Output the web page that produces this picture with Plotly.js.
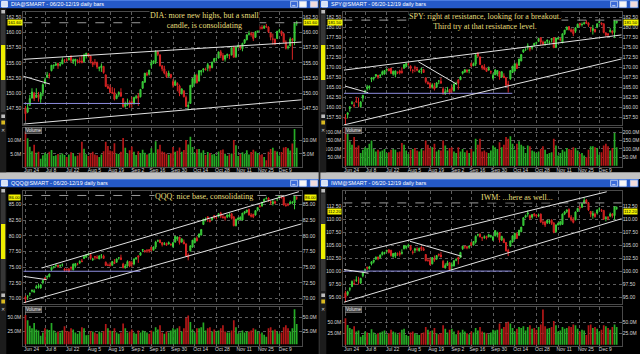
<!DOCTYPE html>
<html><head><meta charset="utf-8">
<script src="https://cdn.plot.ly/plotly-3.0.1.min.js"></script>
<style>html,body{margin:0;padding:0;background:#000;overflow:hidden}#chart{width:640px;height:354px}</style>
</head><body><div id="chart"></div>
<script>
const days = ['Jun 24','Jun 25','Jun 26','Jun 27','Jun 28',
'Jul 1','Jul 2','Jul 3','Jul 5',
'Jul 8','Jul 9','Jul 10','Jul 11','Jul 12','Jul 15','Jul 16','Jul 17','Jul 18','Jul 19',
'Jul 22','Jul 23','Jul 24','Jul 25','Jul 26','Jul 29','Jul 30','Jul 31','Aug 1','Aug 2',
'Aug 5','Aug 6','Aug 7','Aug 8','Aug 9','Aug 12','Aug 13','Aug 14','Aug 15','Aug 16',
'Aug 19','Aug 20','Aug 21','Aug 22','Aug 23','Aug 26','Aug 27','Aug 28','Aug 29','Aug 30',
'Sep 3','Sep 4','Sep 5','Sep 6','Sep 9','Sep 10','Sep 11','Sep 12','Sep 13',
'Sep 16','Sep 17','Sep 18','Sep 19','Sep 20','Sep 23','Sep 24','Sep 25','Sep 26','Sep 27',
'Sep 30','Oct 1','Oct 2','Oct 3','Oct 4','Oct 7','Oct 8','Oct 9','Oct 10','Oct 11',
'Oct 14','Oct 15','Oct 16','Oct 17','Oct 18','Oct 21','Oct 22','Oct 23','Oct 24','Oct 25',
'Oct 28','Oct 29','Oct 30','Oct 31','Nov 1','Nov 4','Nov 5','Nov 6','Nov 7','Nov 8',
'Nov 11','Nov 12','Nov 13','Nov 14','Nov 15','Nov 18','Nov 19','Nov 20','Nov 21','Nov 22',
'Nov 25','Nov 26','Nov 27','Nov 29','Dec 2','Dec 3','Dec 4','Dec 5','Dec 6',
'Dec 9','Dec 10','Dec 11','Dec 12','Dec 13','Dec 16','Dec 17','Dec 18','Dec 19'];
const xTickVals = ['Jun 24','Jul 8','Jul 22','Aug 5','Aug 19','Sep 3','Sep 16','Sep 30','Oct 14','Oct 28','Nov 11','Nov 25','Dec 9'];
const xTickText = ['Jun 24','Jul 8','Jul 22','Aug 5','Aug 19','Sep 2','Sep 16','Sep 30','Oct 14','Oct 28','Nov 11','Nov 25','Dec 9'];

// ---------- DIA ----------
const diaOpen = [147.5,146.9,148.0,149.2,150.0,
149.3,149.7,149.0,150.1,
151.6,152.6,153.0,153.7,154.5,154.6,154.9,154.6,154.8,155.4,
155.5,155.5,156.1,155.2,155.3,155.4,155.3,155.3,155.2,156.1,
156.5,156.1,155.1,155.1,155.0,154.1,154.2,154.4,153.0,151.1,
150.9,150.1,150.1,149.1,149.8,150.1,149.1,147.8,148.1,148.5,
148.6,148.3,149.3,149.5,149.4,150.8,151.8,153.2,153.1,
154.6,154.9,155.2,156.8,156.3,154.5,154.0,153.3,152.8,153.1,
151.9,151.3,151.6,151.2,149.9,150.4,149.3,147.8,148.3,151.1,
151.7,152.9,152.0,153.5,153.8,154.0,154.1,154.5,154.2,155.2,
155.7,155.8,156.8,156.2,155.6,156.2,156.3,156.3,157.5,156.0,
157.6,157.8,157.3,158.3,158.8,159.7,159.8,159.8,159.2,160.1,
160.8,160.8,160.7,161.0,160.9,159.9,158.9,158.9,159.0,
160.3,160.2,159.8,158.4,157.5,157.8,158.9,158.6,161.5];
const diaHigh = [147.9,148.3,149.7,150.8,150.2,
150.8,150.2,150.2,151.6,
152.6,153.5,153.3,154.6,154.7,155.1,155.0,155.1,155.9,155.6,
155.8,156.1,156.2,155.7,155.6,155.6,155.9,156.3,156.5,156.6,
156.6,156.2,155.2,155.6,155.2,154.4,154.9,154.5,153.1,151.5,
151.4,151.0,150.8,149.9,150.3,150.8,149.2,148.6,149.1,148.8,
149.4,149.4,149.7,150.0,150.7,152.0,153.3,153.5,153.8,
155.5,155.4,157.1,157.0,156.4,154.6,154.5,153.6,153.7,153.1,
152.3,152.2,151.8,151.4,150.8,150.4,149.6,148.6,151.3,152.4,
153.1,153.2,153.8,153.8,154.1,154.2,155.0,154.5,155.2,155.8,
155.9,156.8,157.1,156.6,156.3,156.5,156.4,157.5,157.8,157.7,
158.0,157.9,158.3,158.9,159.7,160.3,160.1,160.0,160.2,160.7,
161.1,161.2,161.2,161.4,161.0,160.0,159.8,159.0,160.2,
160.6,160.3,159.9,158.7,157.9,159.2,159.1,161.7,161.9];
const diaLow = [145.5,146.7,147.9,149.1,148.7,
149.2,148.6,148.4,149.5,
151.5,152.5,152.4,153.6,154.0,154.5,154.0,154.4,154.8,155.0,
155.2,155.4,155.0,154.8,154.5,154.9,154.9,155.0,155.1,155.7,
155.9,154.9,154.3,154.6,154.0,153.6,153.5,153.2,151.0,150.7,
150.1,149.9,148.8,149.0,149.4,149.4,147.6,147.6,147.9,147.6,
147.6,148.1,149.0,147.9,149.3,150.7,151.7,152.8,152.9,
154.1,154.8,154.8,156.1,154.4,153.6,153.1,152.5,152.7,152.4,
150.9,151.2,150.3,149.5,149.8,149.3,147.7,147.2,148.3,150.9,
151.5,151.6,151.9,152.9,153.4,153.7,153.6,153.6,154.1,155.0,
155.3,155.7,155.8,155.3,155.2,155.8,155.6,156.2,155.9,155.8,
157.5,157.1,156.9,158.1,158.7,159.5,159.3,158.6,159.1,160.0,
160.4,160.5,160.6,160.8,159.9,158.7,158.0,157.9,158.9,
160.0,159.4,158.3,157.2,157.2,157.7,155.5,157.9,161.1];
const diaClose = [146.6,147.6,149.1,150.2,149.1,
149.7,149.3,149.9,151.4,
152.2,153.0,152.9,154.6,154.6,154.8,154.5,154.7,155.5,155.4,
155.4,155.7,155.4,155.5,155.6,155.2,155.2,155.0,156.3,156.6,
156.1,155.2,154.7,155.0,154.3,154.2,154.5,153.4,151.1,150.8,
150.1,150.0,149.0,149.6,150.1,149.5,147.8,148.2,148.4,148.1,
148.3,149.3,149.4,149.2,150.6,151.9,153.3,153.0,153.8,
154.9,155.3,156.8,156.4,154.5,154.0,153.3,152.7,153.3,152.6,
151.3,151.9,151.3,150.0,150.7,149.4,147.8,148.0,151.3,152.4,
153.0,151.7,153.7,153.7,154.0,153.9,154.7,154.1,155.1,155.7,
155.7,156.8,156.2,155.5,156.2,156.4,156.2,157.5,155.9,157.6,
157.8,157.5,158.2,158.8,159.6,159.8,159.7,159.0,160.1,160.7,
160.7,160.7,161.0,160.9,160.1,159.2,158.9,158.2,160.2,
160.3,159.7,158.4,157.4,157.6,158.9,158.8,161.5,161.6];
const diaVol = [13.5,10.9,7.7,6.0,8.5,
5.5,5.8,3.2,4.5,
5.5,5.0,5.8,6.5,4.2,4.5,5.0,4.8,5.2,4.6,
3.9,4.8,5.6,5.3,4.1,4.4,5.5,9.6,7.0,4.9,
4.2,5.3,5.8,4.8,4.5,3.9,4.8,6.0,9.6,8.0,
6.3,6.0,9.0,5.2,5.0,5.8,11.0,7.3,5.2,6.4,
7.8,5.8,4.6,6.0,5.4,6.6,5.5,4.8,5.2,
7.2,5.5,9.8,6.8,8.5,5.9,5.6,5.1,4.7,5.3,
7.6,5.8,6.2,7.4,5.8,6.5,10.3,8.6,11.5,7.6,
5.4,6.8,6.9,5.5,6.4,4.6,5.7,5.4,4.8,5.0,
4.3,5.9,6.4,6.7,5.1,4.3,4.9,5.2,10.3,8.3,
4.2,5.0,5.6,5.1,6.4,4.8,5.7,6.6,5.9,5.4,
4.6,4.9,3.9,2.6,5.8,6.9,7.3,6.2,5.9,
4.4,5.7,7.4,7.6,7.2,6.3,8.9,14.4,7.3];
const diaTicks = [147.5,150,152.5,155,157.5,160,162.5];
const diaVolTicks = [5,10];
const diaVolText = ['5.0M','10.0M'];
const diaLines = [[-1,155.57,127.3,158.42,'w'],[-1,144.9,127.3,148.9,'w'],[-1.3,152.82,11.3,151.5,'w'],[-1,148.3,52.8,148.3,'h']];
const diaDash = 161.6;
const diaNote = 'DIA: more new highs, but a small<br>candle, is consolidating';

// ---------- SPY ----------
const spyOpen = [157.4,158.2,159.7,161.0,160.6,
161.6,161.3,160.2,162.3,
163.8,164.7,164.9,167.0,167.2,167.8,168.0,167.9,168.2,168.3,
169.3,169.6,169.8,168.3,168.2,168.7,169.1,169.0,169.8,170.2,
170.7,170.3,169.2,170.0,169.6,168.8,169.4,169.4,167.4,166.2,
166.0,165.0,165.2,165.0,166.6,166.5,164.6,163.4,163.9,164.5,
164.9,164.1,165.9,166.8,166.9,168.5,168.8,169.3,169.2,
171.0,170.4,170.8,173.6,172.6,170.4,170.1,169.7,169.3,168.9,
167.3,168.1,168.3,168.9,167.6,167.8,167.4,165.7,167.1,168.7,
169.1,170.7,170.5,171.6,173.8,174.4,175.0,174.8,174.8,175.5,
176.0,176.5,177.4,176.3,176.1,176.5,176.2,176.9,177.4,175.0,
177.1,177.0,176.1,178.4,179.4,180.2,179.4,179.4,179.0,180.0,
181.0,180.7,180.9,181.3,181.1,179.8,179.2,179.5,180.1,
181.2,181.1,180.9,178.6,178.4,178.9,179.1,178.7,181.2];
const spyHigh = [158.3,158.8,160.3,161.6,161.3,
162.6,162.4,161.6,163.1,
164.4,165.6,165.5,167.5,167.6,168.3,168.1,168.3,169.2,169.2,
169.6,169.8,169.8,169.2,169.2,169.0,169.4,170.0,170.8,171.0,
171.1,170.5,169.6,170.4,170.1,169.4,169.9,169.6,167.4,166.6,
166.3,166.0,166.1,166.3,166.7,167.4,165.1,164.7,165.1,164.5,
165.6,166.0,166.4,167.1,167.8,169.0,169.5,169.5,169.5,
171.2,171.2,173.4,173.7,172.7,170.5,170.8,169.9,170.2,169.2,
168.5,169.6,169.2,169.0,169.0,168.5,167.5,166.6,169.2,170.3,
171.1,171.2,172.1,173.3,174.5,174.8,176.0,175.0,175.4,176.1,
176.4,177.4,177.5,176.7,176.6,176.9,176.7,177.2,177.5,177.3,
177.6,177.4,178.4,179.3,180.1,180.3,179.8,179.7,180.0,180.9,
181.1,181.2,181.4,181.8,181.2,180.1,180.6,179.6,180.9,
181.6,181.2,180.9,178.8,178.5,179.8,179.2,181.8,181.7];
const spyLow = [155.7,157.2,158.9,160.7,159.9,
161.1,160.0,159.9,161.4,
163.4,164.2,164.4,166.3,166.7,167.6,167.1,167.4,168.0,168.2,
168.9,169.1,168.3,167.9,167.5,168.3,168.2,168.4,169.6,170.0,
170.4,169.0,168.5,168.8,169.0,168.6,168.4,168.6,166.0,165.8,
164.8,164.7,164.2,164.9,165.8,166.0,163.3,163.1,163.8,163.2,
163.4,164.0,165.6,164.4,166.9,168.2,168.6,168.6,168.5,
170.0,170.3,170.3,172.5,170.6,169.4,169.3,168.9,169.2,168.3,
166.9,168.1,167.8,166.9,167.4,167.4,165.4,163.7,166.9,168.6,
168.9,169.6,170.4,171.5,173.6,174.1,174.4,174.0,174.4,175.2,
175.7,176.3,175.6,175.5,175.4,175.9,175.7,176.2,174.9,174.8,
176.9,176.5,176.1,178.1,179.3,179.2,178.7,177.8,178.6,179.9,
180.2,180.2,180.7,180.9,180.1,178.8,178.2,178.7,179.8,
181.0,180.5,178.5,177.7,177.6,178.7,178.2,177.3,180.9];
const spyClose = [157.1,158.6,160.1,161.1,160.4,
161.4,161.2,161.3,163.0,
164.0,165.1,165.2,167.4,167.5,168.2,167.5,168.0,168.9,169.2,
169.5,169.1,168.5,169.0,169.1,168.6,168.6,168.7,170.7,171.0,
170.7,169.7,169.2,169.8,169.3,169.1,169.6,168.7,166.4,165.8,
164.8,165.6,164.6,166.1,166.6,166.0,163.3,163.9,164.2,163.7,
164.4,165.8,166.0,166.0,167.6,168.9,169.4,169.0,169.3,
170.3,170.9,173.1,172.8,170.7,169.9,169.5,169.0,169.7,168.9,
168.0,169.3,169.2,167.6,168.9,167.4,165.5,165.6,169.2,170.3,
170.9,169.7,172.1,173.2,174.4,174.4,175.4,174.6,175.2,176.0,
176.2,177.2,176.3,175.8,176.2,176.8,176.3,177.2,174.9,177.3,
177.3,177.0,178.4,179.3,180.1,179.4,179.0,178.4,179.9,180.8,
180.6,180.7,181.1,181.0,180.5,179.8,179.7,178.9,180.9,
181.4,180.8,178.7,178.1,178.1,179.2,178.7,181.7,181.5];
const spyVol = [230,190,145,125,170,
110,120,75,95,
110,105,130,150,100,85,95,85,90,100,
75,80,95,100,95,80,85,135,125,90,
70,95,100,105,90,85,100,90,150,125,
105,110,130,85,95,90,150,120,90,105,
110,85,75,110,85,100,80,90,75,
100,85,160,125,160,85,90,80,75,90,
120,110,100,140,110,125,170,160,175,130,
95,130,145,125,115,75,120,115,90,85,
75,85,100,115,95,70,75,80,160,120,
60,75,95,85,105,100,95,110,105,90,
70,75,60,50,95,115,115,110,105,
65,80,120,130,115,90,105,195,110];
const spyTicks = [157.5,160,162.5,165,167.5,170,172.5,175,177.5,180,182.5];
const spyVolTicks = [50,100,150,200];
const spyVolText = ['50.0M','100.0M','150.0M','200.0M'];
const spyLines = [[-0.7,169.3,127.3,178.1,'w'],[33.6,171.4,51.2,165.8,'w'],[-0.2,165.3,10.5,163.65,'w'],[-0.7,163.5,76.9,163.5,'h'],[-0.7,155.6,127.3,172.1,'w']];
const spyDash = 181.8;
const spyNote = 'SPY: right at resistance, looking for a breakout.<br>Third try at that resistance level.';

// ---------- QQQ ----------
const qqqOpen = [70.3,70.3,70.8,71.2,71.1,
71.7,71.9,71.7,72.6,
73.3,73.5,73.5,74.6,75.0,75.2,75.3,75.2,75.4,74.7,
74.7,74.7,75.0,74.6,75.2,75.5,75.7,76.0,76.4,76.6,
77.0,77.0,76.2,76.7,76.6,76.3,76.9,76.8,75.8,75.3,
75.4,75.3,75.8,75.8,76.5,76.5,75.5,74.9,75.2,75.9,
75.7,75.5,76.3,76.8,76.9,77.7,77.6,77.6,77.8,
78.2,77.7,78.2,79.2,79.3,78.9,78.7,78.8,78.7,78.6,
78.3,79.0,79.5,79.8,79.0,79.0,78.7,76.9,77.6,78.2,
78.9,79.6,79.8,80.1,81.8,82.6,83.0,82.4,82.6,83.2,
82.9,83.1,83.6,83.0,83.0,83.0,83.1,83.5,83.0,81.6,
82.6,82.6,82.5,83.6,83.8,84.2,83.3,83.4,83.3,84.1,
84.7,84.7,85.4,85.9,86.0,85.4,85.1,85.4,85.9,
86.1,86.2,86.1,84.9,85.0,85.1,85.3,85.2,86.0];
const qqqHigh = [70.5,70.6,71.0,71.5,71.5,
72.2,72.4,72.3,73.0,
73.4,73.7,74.0,75.1,75.2,75.5,75.4,75.4,75.6,74.9,
74.8,74.9,75.1,75.6,75.6,75.7,76.1,76.3,76.8,77.0,
77.2,77.1,76.5,76.8,76.9,76.9,77.1,77.0,75.9,75.6,
75.8,76.0,76.3,76.4,76.6,77.0,75.7,75.5,76.1,75.9,
76.0,76.4,76.6,76.9,77.4,77.9,77.7,77.9,77.8,
78.2,78.3,79.2,79.4,79.4,79.0,79.0,78.9,79.1,78.8,
79.0,80.0,79.9,79.8,79.6,79.4,78.8,77.2,78.5,79.3,
79.7,79.9,80.3,81.0,82.7,82.9,83.1,82.7,83.0,83.3,
83.1,83.6,83.8,83.4,83.1,83.4,83.6,83.6,83.1,82.7,
82.9,83.1,83.6,83.9,84.1,84.3,83.6,83.5,84.0,84.5,
84.9,85.4,85.9,86.2,86.1,85.6,85.8,85.6,86.0,
86.4,86.5,86.2,85.2,85.2,85.6,85.5,86.3,86.3];
const qqqLow = [69.3,69.8,70.4,71.0,70.9,
71.6,71.6,71.6,72.3,
72.9,73.1,73.4,74.4,74.8,75.1,74.9,75.0,75.1,74.3,
74.3,74.2,74.5,74.5,74.9,75.3,75.5,75.8,76.3,76.5,
76.8,76.2,76.0,76.2,76.3,76.3,76.4,76.4,75.2,75.2,
75.2,75.3,75.5,75.7,76.2,76.2,74.9,74.8,75.1,75.0,
75.0,75.3,76.2,75.7,76.9,77.4,77.3,77.3,77.3,
77.5,77.7,77.9,79.0,78.9,78.3,78.5,78.4,78.6,78.4,
78.1,78.9,79.2,78.6,78.9,78.7,76.8,76.1,77.5,78.1,
78.8,79.1,79.7,80.1,81.7,82.3,82.2,82.1,82.4,82.7,
82.6,82.9,82.8,82.7,82.4,82.8,82.9,82.6,81.5,81.5,
82.4,82.5,82.4,83.4,83.6,83.2,82.9,82.8,83.2,83.9,
84.5,84.7,85.3,85.8,85.4,84.9,84.8,85.0,85.5,
86.0,85.9,84.8,84.6,84.7,85.0,85.0,84.2,85.7];
const qqqClose = [69.9,70.3,70.8,71.3,71.2,
71.9,72.0,72.2,72.9,
73.1,73.5,73.9,75.0,75.1,75.3,75.1,75.3,75.4,74.5,
74.6,74.3,74.9,75.5,75.6,75.5,75.9,75.9,76.7,77.0,
77.1,76.4,76.3,76.6,76.5,76.8,76.9,76.4,75.3,75.3,
75.2,75.9,75.6,76.3,76.5,76.2,74.9,75.2,75.9,75.2,
75.5,76.3,76.5,76.6,77.3,77.8,77.6,77.6,77.6,
77.7,78.2,79.0,79.2,78.9,78.6,78.7,78.5,78.9,78.6,
78.9,79.9,79.8,78.9,79.5,78.7,76.8,76.6,78.4,79.3,
79.6,79.2,80.3,81.0,82.6,82.6,82.7,82.3,82.9,83.0,
82.9,83.5,83.1,82.9,82.8,83.3,83.3,82.8,81.6,82.6,
82.8,82.9,83.6,83.8,84.1,83.3,83.1,83.0,84.0,84.5,
84.6,85.3,85.8,85.9,85.7,85.3,85.4,85.2,85.9,
86.3,86.1,84.9,84.8,84.9,85.3,85.3,86.3,86.0];
const qqqVol = [55,45,35,30,40,
28,26,16,22,
30,28,27,40,26,22,24,22,26,34,
25,24,30,28,22,20,24,32,30,17,
18,25,24,22,20,24,22,25,38,30,
26,25,30,22,20,22,39,30,22,24,
28,22,20,26,22,26,24,22,20,
26,24,32,28,36,22,20,24,22,26,
30,28,30,34,24,30,50,54,42,28,
22,30,30,32,41,26,30,32,24,28,
24,26,30,36,24,22,22,26,45,32,
20,22,26,22,24,24,26,30,28,24,
20,22,18,14,30,32,26,28,24,
20,22,32,36,30,24,30,66,38];
const qqqTicks = [70,72.5,75,77.5,80,82.5,85];
const qqqVolTicks = [25,50];
const qqqVolText = ['25.0M','50.0M'];
const qqqLines = [[7.5,74.88,126,87.0,'w'],[-1,69.35,127.3,81.9,'w'],[-1,74.36,53,74.36,'h'],[-1,73.56,9.8,73.02,'w']];
const qqqDash = 86.4;
const qqqNote = 'QQQ: nice base, consolidating';

// ---------- IWM ----------
const iwmOpen = [95.8,95.5,96.5,97.0,97.6,
98.2,98.2,97.7,99.1,
100.2,100.7,100.5,101.4,101.8,102.3,102.7,102.6,103.2,103.4,
103.8,104.1,104.0,102.8,102.9,103.2,103.5,103.4,104.3,104.5,
104.8,104.8,103.7,104.0,104.2,103.9,104.6,104.3,103.2,102.0,
102.1,101.4,102.4,102.3,103.2,103.1,101.9,100.6,101.1,101.6,
101.0,101.0,102.1,102.6,102.6,104.3,104.7,104.7,104.6,
105.5,105.0,105.6,107.0,107.1,106.5,106.5,106.7,106.6,106.7,
106.0,106.8,107.0,107.4,106.0,106.1,105.5,104.0,104.8,105.6,
106.2,107.2,106.9,107.6,108.8,110.4,111.0,110.7,110.4,111.0,
110.8,110.7,111.0,109.4,109.5,109.3,109.5,109.8,109.3,107.6,
108.9,109.0,109.0,111.0,111.5,111.9,110.4,110.0,109.9,111.5,
112.3,112.3,113.1,113.7,113.2,111.5,110.7,111.0,111.2,
112.0,111.8,111.7,110.1,110.4,110.6,111.0,110.7,112.1];
const iwmHigh = [96.2,96.2,96.9,98.2,98.4,
99.0,98.9,98.7,99.8,
100.5,100.9,101.0,101.9,102.2,102.8,102.8,103.2,103.8,103.7,
104.1,104.2,104.1,103.5,103.6,103.6,103.9,104.2,105.0,104.9,
105.3,105.0,104.0,104.5,104.6,104.5,104.8,104.6,103.3,102.5,
102.6,102.7,103.0,103.1,103.4,103.7,102.1,101.5,102.0,101.7,
101.7,102.1,102.5,102.8,103.7,104.9,104.9,104.9,104.9,
105.6,105.8,106.9,107.2,107.3,106.6,106.9,106.8,107.2,107.0,
106.8,107.9,107.6,107.4,106.8,106.4,105.6,104.3,105.9,106.9,
107.4,107.5,107.9,108.5,110.4,110.9,111.7,110.9,111.0,111.2,
111.0,111.1,111.1,109.9,109.6,109.9,109.9,110.0,109.4,109.0,
109.4,109.7,111.1,111.6,111.9,112.1,110.8,110.4,111.5,112.2,
112.6,113.1,114.2,113.9,113.3,111.6,111.6,111.3,111.9,
112.3,112.0,111.8,110.6,110.6,111.3,111.2,112.5,112.5];
const iwmLow = [94.0,95.2,96.1,96.9,97.3,
97.9,97.4,97.5,98.8,
99.8,100.2,100.3,101.1,101.5,102.2,102.1,102.5,103.0,103.2,
103.6,103.4,102.8,102.6,102.5,102.9,102.8,103.2,104.2,104.2,
104.7,103.9,103.2,103.5,103.8,103.8,103.9,103.9,101.9,101.9,
101.2,101.3,101.8,102.2,102.8,102.7,100.6,100.5,101.0,100.0,
100.1,100.9,101.9,101.3,102.6,104.1,104.3,104.2,104.3,
104.8,105.0,105.3,106.7,106.5,105.8,106.2,106.1,106.5,106.4,
105.8,106.7,106.5,105.5,105.8,105.4,103.8,102.9,104.7,105.5,
106.1,106.2,106.8,107.5,108.7,110.2,110.5,109.9,110.1,110.5,
110.3,110.4,109.3,108.9,108.5,109.1,109.1,108.9,107.3,107.4,
108.8,108.8,108.9,110.8,111.2,110.3,109.6,109.2,109.8,111.4,
111.9,112.2,113.0,113.0,111.6,110.4,110.1,110.3,110.9,
111.7,111.4,109.9,109.6,109.8,110.4,110.3,109.9,111.8];
const iwmClose = [94.9,96.0,96.6,98.0,97.5,
98.3,98.2,98.6,99.7,
100.2,100.6,100.8,101.8,102.1,102.7,102.4,103.1,103.6,103.6,
104.0,103.6,103.0,103.4,103.5,103.2,103.2,103.6,104.9,104.8,
105.0,104.1,103.6,104.3,104.2,104.4,104.3,104.0,102.0,102.0,
101.2,102.6,102.1,103.0,103.1,102.7,100.7,101.1,101.6,100.3,
101.2,102.0,102.2,102.3,103.6,104.8,104.7,104.5,104.8,
105.0,105.7,106.7,107.0,106.6,106.4,106.6,106.4,107.0,106.8,
106.6,107.8,107.4,106.0,106.7,105.5,103.9,103.6,105.8,106.8,
107.3,106.3,107.9,108.5,110.3,110.7,111.2,110.2,110.9,110.8,
110.6,110.8,109.5,109.3,108.9,109.8,109.6,109.2,107.5,108.9,
109.2,109.5,111.0,111.4,111.8,110.4,109.9,109.4,111.4,112.1,
112.2,113.0,113.6,113.1,111.8,111.0,111.1,110.5,111.8,
112.0,111.7,110.0,110.3,110.2,111.0,110.7,112.4,112.2];
const iwmVol = [60,45,38,35,42,
30,32,18,22,
30,28,26,35,28,24,26,28,30,32,
24,26,34,30,28,24,28,34,36,22,
20,28,30,26,24,22,26,28,40,34,
30,32,38,26,24,26,44,36,28,34,
36,30,24,32,28,34,30,26,24,
30,28,38,32,40,30,28,26,24,28,
34,32,34,48,36,40,50,52,48,38,
30,36,40,38,42,32,40,44,36,38,
34,40,46,80,42,36,38,40,54,44,
30,32,40,36,38,42,40,46,44,36,
30,34,32,22,44,46,38,40,36,
30,34,44,42,38,34,40,46,40];
const iwmTicks = [95,97.5,100,102.5,105,107.5,110,112.5];
const iwmVolTicks = [25,50];
const iwmVolText = ['25.0M','50.0M'];
const iwmLines = [[11,104.1,120.4,115.3,'w'],[29.7,105.75,53.5,102.86,'w'],[-0.7,94.0,127.3,110.1,'w'],[-0.7,100.0,76.6,100.0,'h'],[-0.7,100.3,10.6,99.6,'w']];
const iwmDash = 113.15;
const iwmNote = 'IWM: ...here as well...';

// ---------- layout / panels ----------
const panels = [
  {sym:'DIA', ox:0,   oy:0,   O:diaOpen, H:diaHigh, L:diaLow, C:diaClose, V:diaVol, ticks:diaTicks, vt:diaVolTicks, vtt:diaVolText, lines:diaLines, dash:diaDash, note:diaNote, pr:[144.75,163.37], vr:[0.2,14.9], nx:204, ny:21},
  {sym:'SPY', ox:320, oy:0,   O:spyOpen, H:spyHigh, L:spyLow, C:spyClose, V:spyVol, ticks:spyTicks, vt:spyVolTicks, vtt:spyVolText, lines:spyLines, dash:spyDash, note:spyNote, pr:[155.58,183.83], vr:[-6,226], nx:485, ny:21.7},
  {sym:'QQQ', ox:0,   oy:179, O:qqqOpen, H:qqqHigh, L:qqqLow, C:qqqClose, V:qqqVol, ticks:qqqTicks, vt:qqqVolTicks, vtt:qqqVolText, lines:qqqLines, dash:qqqDash, note:qqqNote, pr:[69.16,87.11], vr:[-2.6,70.7], nx:204, ny:196.3},
  {sym:'IWM', ox:320, oy:179, O:iwmOpen, H:iwmHigh, L:iwmLow, C:iwmClose, V:iwmVol, ticks:iwmTicks, vt:iwmVolTicks, vtt:iwmVolText, lines:iwmLines, dash:iwmDash, note:iwmNote, pr:[93.65,115.45], vr:[-2.3,86.4], nx:516.5, ny:197}
];

const W = 640, H = 354;
const PX = v => v / W;
const PY = v => 1 - v / H;
const SANS = 'Liberation Sans, Arial, sans-serif';
const data = [];
const layout = {
  width: W, height: H, margin: {l:0, r:0, t:0, b:0, pad:0},
  paper_bgcolor: '#000', plot_bgcolor: '#000', showlegend: false, hovermode: false,
  font: {family: SANS, size: 5, color: '#d4d4d4'},
  shapes: [], annotations: []
};
function rect(x0, y0, x1, y1, fill, line) {
  layout.shapes.push({type:'rect', xref:'paper', yref:'paper', x0:PX(x0), x1:PX(x1), y0:PY(y1), y1:PY(y0),
    fillcolor: fill, line: {width: line ? 0.8 : 0, color: line || fill}, layer: 'above'});
}
function label(x, y, t, o) {
  layout.annotations.push(Object.assign({xref:'paper', yref:'paper', x:PX(x), y:PY(y), text:t, showarrow:false,
    xanchor:'left', yanchor:'middle', borderpad:0, font:{size:5, color:'#fff', family:SANS}}, o || {}));
}
const xn = i => i === 1 ? 'x' : 'x' + i, yn = i => i === 1 ? 'y' : 'y' + i;
const xk = i => i === 1 ? 'xaxis' : 'xaxis' + i, yk = i => i === 1 ? 'yaxis' : 'yaxis' + i;

// status strip between rows and separators
rect(0, 172.3, 640, 179, '#c2c2c2');
rect(318.6, 0, 320.4, 354, '#2e2e2e');

panels.forEach((P, p) => {
  const xP = 2*p+1, xV = 2*p+2, yPL = 4*p+1, yPR = 4*p+2, yVL = 4*p+3, yVR = 4*p+4;
  const ox = P.ox, oy = P.oy;
  const dom = [PX(ox+23.3), PX(ox+301.7)];
  const grid = {showgrid:true, gridcolor:'#5c5c5c', griddash:'dot', gridwidth:1};
  const tf = {size:5, color:'#d8d8d8', family:SANS};
  const frame = {showline:true, mirror:true, linecolor:'#4a4a4a', linewidth:1, zeroline:false, fixedrange:true, ticks:''};
  layout[xk(xP)] = Object.assign({domain:dom, anchor:yn(yPL), type:'category', categoryorder:'array', categoryarray:days,
    range:[-1,127.3], tickvals:xTickVals, showticklabels:false, rangeslider:{visible:false}}, grid, frame);
  layout[xk(xV)] = Object.assign({domain:dom, anchor:yn(yVL), type:'category', categoryorder:'array', categoryarray:days,
    range:[-1,127.3], tickvals:xTickVals, ticktext:xTickText, tickfont:tf, ticklabelshift:6, ticklabelstandoff:-2}, grid, frame);
  layout[yk(yPL)] = Object.assign({domain:[PY(oy+125), PY(oy+12)], anchor:xn(xP), range:P.pr, tickvals:P.ticks,
    tickformat:'.2f', tickfont:tf}, grid, frame);
  layout[yk(yPR)] = {overlaying:yn(yPL), side:'right', anchor:xn(xP), range:P.pr, tickvals:P.ticks, tickformat:'.2f',
    tickfont:tf, showgrid:false, zeroline:false, fixedrange:true, ticks:''};
  layout[yk(yVL)] = Object.assign({domain:[PY(oy+166.7), PY(oy+127.7)], anchor:xn(xV), range:P.vr, tickvals:P.vt,
    ticktext:P.vtt, tickfont:tf}, grid, frame);
  layout[yk(yVR)] = {overlaying:yn(yVL), side:'right', anchor:xn(xV), range:P.vr, tickvals:P.vt, ticktext:P.vtt,
    tickfont:tf, showgrid:false, zeroline:false, fixedrange:true, ticks:''};

  data.push({type:'candlestick', x:days, open:P.O, high:P.H, low:P.L, close:P.C, xaxis:xn(xP), yaxis:yn(yPL),
    whiskerwidth:0, hoverinfo:'skip', showlegend:false,
    increasing:{line:{color:'#3ccf3c', width:1}, fillcolor:'#22a822'},
    decreasing:{line:{color:'#d82424', width:1}, fillcolor:'#b81414'}});
  data.push({type:'scatter', x:days, y:P.C, xaxis:xn(xP), yaxis:yn(yPR), mode:'lines',
    line:{width:0, color:'rgba(0,0,0,0)'}, hoverinfo:'skip', showlegend:false});
  const vcol = P.C.map((c, i) => c >= P.O[i] ? '#26aa26' : '#b41818');
  data.push({type:'bar', x:days, y:P.V, xaxis:xn(xV), yaxis:yn(yVL), width:0.78,
    marker:{color:vcol, line:{width:0}}, hoverinfo:'skip', showlegend:false});
  data.push({type:'scatter', x:days, y:P.V, xaxis:xn(xV), yaxis:yn(yVR), mode:'lines',
    line:{width:0, color:'rgba(0,0,0,0)'}, hoverinfo:'skip', showlegend:false});

  // last-price dashed line and drawn trendlines
  layout.shapes.push({type:'line', xref:xn(xP), yref:yn(yPL), x0:-1, x1:127.3, y0:P.dash, y1:P.dash,
    line:{color:'#9a9a9a', width:1, dash:'dash'}, layer:'above'});
  P.lines.forEach(L => layout.shapes.push({type:'line', xref:xn(xP), yref:yn(yPL), x0:L[0], y0:L[1], x1:L[2], y1:L[3],
    line:{color: L[4] === 'h' ? '#8e8ee0' : '#e2e2e2', width:1}, layer:'above'}));

  // commentary
  layout.annotations.push({xref:'paper', yref:'paper', x:PX(P.nx), y:PY(P.ny), text:P.note, showarrow:false,
    xanchor:'center', yanchor:'middle', align:'center', bgcolor:'#000', borderpad:0,
    font:{family:'Liberation Serif, Times New Roman, serif', size:8, color:'#e6df7c'}});

  // last price yellow boxes, kept between the neighbouring tick labels
  const last = P.C[P.C.length - 1];
  const span = P.pr[1] - P.pr[0];
  const ypx = v => (P.pr[1] - v) / span * 113;
  const yl = ypx(last);
  const need = 5.0;
  let lo = -1e9, hi = 1e9;
  P.ticks.forEach(t => { const ty = ypx(t); if (ty <= yl) lo = Math.max(lo, ty + need); else hi = Math.min(hi, ty - need); });
  let target = yl;
  if (lo > hi) target = (lo + hi) / 2; else target = Math.min(Math.max(yl, lo), hi);
  const shift = -(target - yl);
  [ox+14.6, ox+310.6].forEach(xx => layout.annotations.push({xref:'paper', yref:yn(yPL), x:PX(xx), y:last,
    yshift:shift, text:last.toFixed(2), showarrow:false, xanchor:'center', yanchor:'middle', bgcolor:'#f2f200',
    borderpad:0, font:{size:4.3, color:'#000', family:SANS}}));

  // Volume caption
  label(ox+25, oy+130.4, 'Volume', {bgcolor:'#3c3c3c', bordercolor:'#9a9a9a', borderwidth:0.5, borderpad:0.4,
    font:{size:4.5, color:'#f0f0f0', family:SANS}});

  // window chrome
  rect(ox, oy, ox+318.6, oy+8.3, '#2559c6');
  rect(ox, oy, ox+318.6, oy+1, '#4a7ce0');
  rect(ox+1.6, oy+1.4, ox+7.4, oy+7, '#d6e2f6', '#ffffff');
  label(ox+10, oy+4.4, P.sym + '@SMART - 06/20-12/19 daily bars', {font:{size:5.5, color:'#ffffff', family:SANS}});
  rect(ox+290.6, oy+1.3, ox+297.6, oy+7.2, '#3a6ad8', '#c8d6f2');
  rect(ox+292.2, oy+5.4, ox+295.4, oy+6.2, '#ffffff');
  rect(ox+299.4, oy+1.3, ox+306.4, oy+7.2, '#f6f6f6', '#c8d6f2');
  rect(ox+310.4, oy+1.3, ox+317.4, oy+7.2, '#f2dcdc', '#c8d6f2');
  // left toolbar
  rect(ox, oy+8.3, ox+6.3, p < 2 ? 172.3 : 354, '#1c1c1c');
  rect(ox+1, oy+14.5, ox+5.3, oy+112, '#363636');
  rect(ox+1, oy+45, ox+5.3, oy+80, '#eeee00');
  rect(ox+1.3, oy+10, ox+5, oy+13.5, '#bdbdbd');
  rect(ox+1.3, oy+114.5, ox+5, oy+118, '#bdbdbd');
  rect(ox+1.3, oy+120.5, ox+5, oy+124.5, '#d8b820');
  label(ox+3.2, oy+129.6, '✕', {xanchor:'center', font:{size:5, color:'#cccccc', family:'DejaVu Sans'}});
});

Plotly.newPlot('chart', data, layout, {staticPlot:true, displayModeBar:false});
</script>
</body></html>
